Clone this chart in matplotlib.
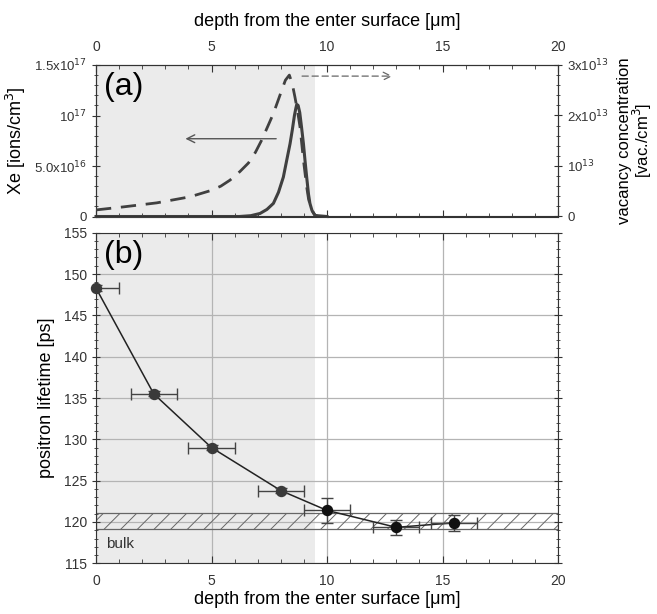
import matplotlib
matplotlib.use("Agg")
import matplotlib.pyplot as plt
from matplotlib.ticker import MultipleLocator

plt.rcParams['font.family'] = ['Liberation Sans', 'DejaVu Sans']
plt.rcParams['hatch.linewidth'] = 0.7

# ---- data (panel a) ----
xe_depth = [0, 6.2, 6.7, 7.1, 7.4, 7.68, 7.9, 8.11, 8.25, 8.4, 8.5, 8.59, 8.65, 8.69, 8.75,
            8.82, 8.9, 8.98, 9.05, 9.12, 9.2, 9.26, 9.35, 9.48, 10.0]
xe_conc = [0, 0, 0.008, 0.03, 0.07, 0.13, 0.24, 0.39, 0.55, 0.72, 0.86, 1.0, 1.07, 1.11, 1.1,
           1.03, 0.88, 0.72, 0.55, 0.39, 0.22, 0.13, 0.06, 0.01, 0]  # x1e17
vac_depth = [0, 1.18, 2.63, 4.07, 4.94, 5.4, 5.8, 6.23, 6.6, 6.9, 7.17, 7.45, 7.68, 7.9,
             8.04, 8.2, 8.37, 8.5, 8.61, 8.72, 8.83, 8.98, 9.12, 9.2, 9.29, 9.4, 9.48, 9.6]
vac_conc = [0.13, 0.19, 0.27, 0.39, 0.51, 0.6, 0.72, 0.89, 1.06, 1.27, 1.51, 1.8, 2.04, 2.32,
            2.5, 2.7, 2.8, 2.62, 2.37, 2.1, 1.78, 1.12, 0.59, 0.35, 0.19, 0.08, 0.03, 0]  # x1e13

# ---- data (panel b) ----
depth = [0, 2.5, 5, 8, 10, 13, 15.5]
lifetime = [148.3, 135.5, 129.0, 123.8, 121.4, 119.35, 119.9]
depth_err = [1.0, 1.0, 1.0, 1.0, 1.0, 1.0, 1.0]
lifetime_err = [0.4, 0.3, 0.3, 0.3, 1.5, 0.87, 1.0]
bulk_low, bulk_high = 119.1, 121.05

left_ticks = [0, 0.5, 1.0, 1.5]
left_labels = ['0', '5.0x10$^{16}$', '10$^{17}$', '1.5x10$^{17}$']
right_ticks = [0, 1, 2, 3]
right_labels = ['0', '10$^{13}$', '2x10$^{13}$', '3x10$^{13}$']
xlabel = 'depth from the enter surface [\u03bcm]'

W, H = 657, 614
fig = plt.figure(figsize=(W / 100, H / 100), dpi=100)
L, R = 96 / W, 558 / W
ax1 = fig.add_axes([L, 1 - 216.5 / H, R - L, (216.5 - 65) / H])
ax2 = fig.add_axes([L, 1 - 563.3 / H, R - L, (563.3 - 232.7) / H])

spine_c = '#333333'
line_c = '#404040'
shade_c = '#ebebeb'

# ---- panel a ----
ax1.axvspan(0, 9.5, color=shade_c, zorder=0, lw=0)
ax1.plot(xe_depth, xe_conc, color=line_c, lw=2.2, zorder=3, clip_on=False,
         solid_joinstyle='round')
ax1.set_xlim(0, 20)
ax1.set_ylim(0, 1.5)
ax1.xaxis.tick_top()
ax1.xaxis.set_label_position('top')
ax1.set_xticks([0, 5, 10, 15, 20])
ax1.xaxis.set_minor_locator(MultipleLocator(1))
ax1.tick_params(axis='x', which='both', direction='in', top=True, bottom=True,
                labelbottom=False, labeltop=True, labelsize=10, pad=8, colors=spine_c)
ax1.tick_params(axis='x', which='major', length=5)
ax1.tick_params(axis='x', which='minor', length=3)
ax1.set_xlabel(xlabel, fontsize=13, labelpad=10)
ax1.set_yticks(left_ticks)
ax1.set_yticklabels(left_labels)
ax1.yaxis.set_minor_locator(MultipleLocator(0.1))
ax1.tick_params(axis='y', which='both', direction='inout', labelsize=9.5, colors=spine_c)
ax1.tick_params(axis='y', which='major', length=6)
ax1.tick_params(axis='y', which='minor', length=3)
ax1.set_ylabel('Xe [ions/cm$^3$]', fontsize=13, labelpad=4)
for s in ax1.spines.values():
    s.set_color(spine_c)
ax1.text(0.35, 1.28, '(a)', fontsize=23, color='black', va='center', ha='left')
ax1.annotate('', xy=(3.75, 0.77), xytext=(7.92, 0.77),
             arrowprops=dict(arrowstyle='->', color='#555555', lw=1.0,
                             mutation_scale=14), zorder=4)

ax1r = ax1.twinx()
ax1r.plot(vac_depth, vac_conc, color=line_c, lw=2.0, ls=(0, (5.5, 3.5)), zorder=3)
ax1r.set_ylim(0, 3)
ax1r.set_yticks(right_ticks)
ax1r.set_yticklabels(right_labels)
ax1r.yaxis.set_minor_locator(MultipleLocator(0.2))
ax1r.tick_params(axis='y', which='both', direction='inout', labelsize=9.5, colors=spine_c)
ax1r.tick_params(axis='y', which='major', length=6)
ax1r.tick_params(axis='y', which='minor', length=3)
ax1r.set_ylabel('vacancy concentration\n[vac./cm$^3$]', fontsize=12, labelpad=6,
                linespacing=0.95)
for s in ax1r.spines.values():
    s.set_color(spine_c)
ax1r.annotate('', xy=(12.95, 2.78), xytext=(8.8, 2.78),
              arrowprops=dict(arrowstyle='->', color='#666666', lw=0.9, ls=(0, (5, 3)),
                              mutation_scale=14), zorder=4)

# ---- panel b ----
ax2.axvspan(0, 9.5, color=shade_c, zorder=0, lw=0)
ax2.set_xlim(0, 20)
ax2.set_ylim(115, 155)
ax2.set_xticks([0, 5, 10, 15, 20])
ax2.xaxis.set_minor_locator(MultipleLocator(1))
ax2.set_yticks([115, 120, 125, 130, 135, 140, 145, 150, 155])
ax2.yaxis.set_minor_locator(MultipleLocator(1))
ax2.grid(True, which='major', color='#b4b4b4', lw=0.9, zorder=0.5)
ax2.set_axisbelow(True)
ax2.tick_params(axis='x', which='both', direction='in', top=True, bottom=True,
                labelsize=10, pad=8, colors=spine_c)
ax2.tick_params(axis='x', which='major', length=5)
ax2.tick_params(axis='x', which='minor', length=3)
ax2.tick_params(axis='y', which='both', direction='inout', left=True, right=True,
                labelsize=10, colors=spine_c)
ax2.tick_params(axis='y', which='major', length=6)
ax2.tick_params(axis='y', which='minor', length=3)
for s in ax2.spines.values():
    s.set_color(spine_c)

ax2.fill_between([0, 20], bulk_low, bulk_high, facecolor='none', edgecolor='#666666',
                 hatch='//', lw=0.9, zorder=1)
ax2.text(0.45, 117.3, 'bulk', fontsize=11, color='#333333', va='center', ha='left')

ax2.plot(depth, lifetime, color='#222222', lw=1.1, zorder=3)
mcols = ['#3a3a3a', '#3a3a3a', '#3a3a3a', '#3a3a3a', '#111111', '#111111', '#111111']
for xd, yd, xe, ye, mc in zip(depth, lifetime, depth_err, lifetime_err, mcols):
    ax2.errorbar([xd], [yd], xerr=[xe], yerr=[ye], fmt='none',
                 ecolor='#444444', elinewidth=1.0, capsize=4, capthick=1.0, zorder=4)
    ax2.plot([xd], [yd], 'o', ms=7.2, mfc=mc, mec=mc, zorder=5, clip_on=False)

ax2.set_xlabel(xlabel, fontsize=13, labelpad=2)
ax2.set_ylabel('positron lifetime [ps]', fontsize=13, labelpad=6)
ax2.text(0.35, 152.3, '(b)', fontsize=23, color='black', va='center', ha='left')

fig.savefig('out.png', dpi=100)
